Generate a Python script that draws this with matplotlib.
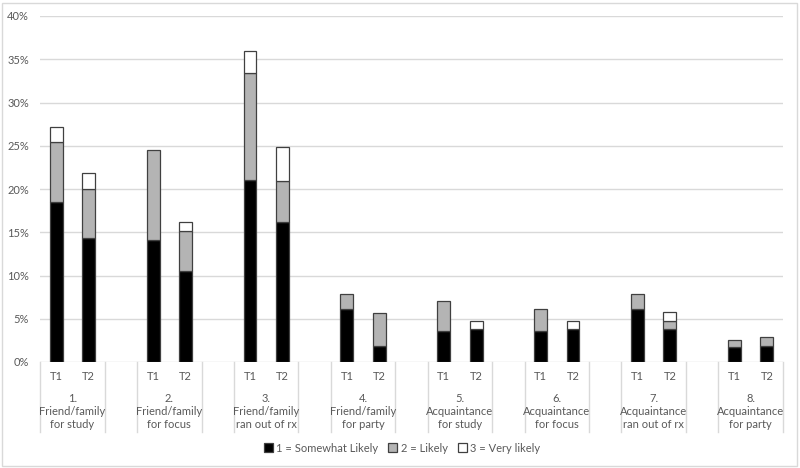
import matplotlib
matplotlib.use("Agg")
import matplotlib.pyplot as plt
import matplotlib.transforms as mtransforms
from matplotlib.patches import Patch, Rectangle
from matplotlib.ticker import FuncFormatter, MultipleLocator
import numpy as np

plt.rcParams['font.family'] = ['Lato', 'DejaVu Sans']

groups = ["1.\nFriend/family\nfor study", "2.\nFriend/family\nfor focus",
          "3.\nFriend/family\nran out of rx", "4.\nFriend/family\nfor party",
          "5.\nAcquaintance\nfor study", "6.\nAcquaintance\nfor focus",
          "7.\nAcquaintance\nran out of rx", "8.\nAcquaintance\nfor party"]
times = ["T1", "T2"]
series_names = ["1 = Somewhat Likely", "2 = Likely", "3 = Very likely"]

# values per bar, order: G1T1, G1T2, G2T1, G2T2, ...
somewhat = [18.45, 14.3, 14.05, 10.5, 21.05, 16.2, 6.15, 1.9,
            3.55, 3.8, 3.55, 3.8, 6.15, 3.8, 1.75, 1.9]
likely = [6.95, 5.65, 10.45, 4.7, 12.35, 4.7, 1.75, 3.8,
          3.45, 0.0, 2.55, 0.0, 1.75, 0.95, 0.85, 0.95]
very_likely = [1.8, 1.95, 0.0, 1.0, 2.6, 3.9, 0.0, 0.0,
               0.0, 0.95, 0.0, 0.95, 0.0, 1.0, 0.0, 0.0]

colors = ["#000000", "#b4b4b4", "#ffffff"]
edge = "#404040"
text_c = "#595959"
grid_c = "#d9d9d9"

fig = plt.figure(figsize=(8, 4.68), dpi=100)
ax = fig.add_axes([40/800, 1-362/468, (783-40)/800, 346/468])

ngroups = len(groups)
xpos = []
for g in range(ngroups):
    xpos += [3*g, 3*g+1]
xpos = np.array(xpos, dtype=float)

bottoms = np.zeros(len(xpos))
for vals, col in zip([somewhat, likely, very_likely], colors):
    vals = np.array(vals)
    for x, b, v in zip(xpos, bottoms, vals):
        if v > 0:
            ax.bar(x, v, bottom=b, width=0.4, color=col, edgecolor=edge,
                   linewidth=0.9, zorder=3)
    bottoms = bottoms + vals

ax.set_xlim(-0.5, 3*ngroups - 1.5)
ax.set_ylim(0, 40)
ax.yaxis.set_major_locator(MultipleLocator(5))
ax.yaxis.set_major_formatter(FuncFormatter(lambda v, p: f"{v:.0f}%"))
ax.grid(axis='y', color=grid_c, linewidth=1.0, zorder=0)
ax.set_axisbelow(True)
for s in ax.spines.values():
    s.set_visible(False)
ax.tick_params(axis='y', length=0, pad=8, labelsize=8, labelcolor=text_c)
ax.set_xticks([])

trans = mtransforms.blended_transform_factory(ax.transData, ax.transAxes)
def yfrac(py):
    return (362 - py) / 346.0

# separator lines
for g in range(ngroups):
    for xl in (3*g - 0.5, 3*g + 1.5):
        ax.plot([xl, xl], [0, yfrac(432)], transform=trans, color=grid_c,
                linewidth=1.0, clip_on=False, zorder=1)

# tick labels
for g in range(ngroups):
    for i, t in enumerate(times):
        ax.text(3*g + i, yfrac(377), t, transform=trans, ha='center', va='center',
                fontsize=8, color=text_c)
    ax.text(3*g + 0.5, yfrac(411.5), groups[g], transform=trans, ha='center',
            va='center', fontsize=8, color=text_c, linespacing=1.25)

handles = [Patch(facecolor=c, edgecolor=edge, linewidth=0.9) for c in colors]
fig.legend(handles, series_names, loc='center', bbox_to_anchor=(402/800, 1-448/468),
           ncol=3, frameon=False, fontsize=8, labelcolor=text_c,
           handlelength=0.8, handleheight=0.8, handletextpad=0.3, columnspacing=0.9)

fig.add_artist(Rectangle((2/800, 2/468), 795/800, 463/468, transform=fig.transFigure,
                         fill=False, edgecolor=grid_c, linewidth=1.0))

fig.savefig("out.png", dpi=100)
